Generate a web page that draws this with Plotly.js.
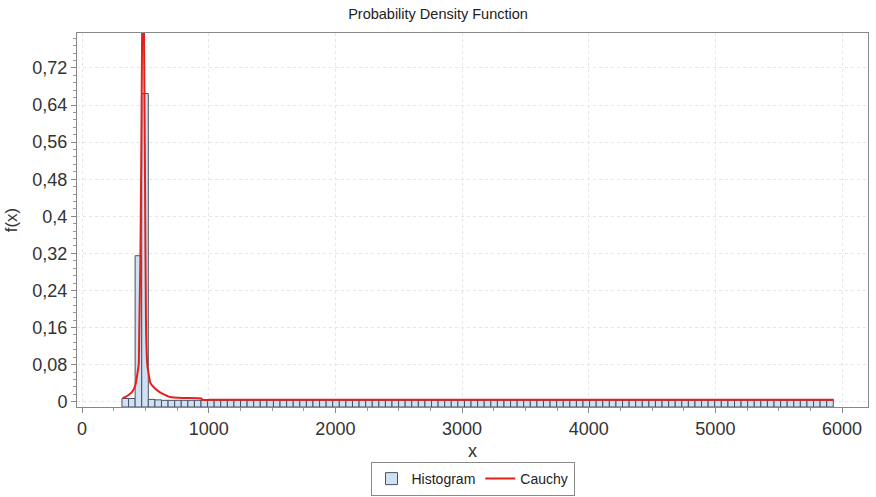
<!DOCTYPE html>
<html>
<head>
<meta charset="utf-8">
<script src="https://cdn.plot.ly/plotly-3.0.1.min.js"></script>
<style>html,body{margin:0;padding:0;background:#fff;}#chart{width:876px;height:497px;}</style>
</head>
<body>
<div id="chart"></div>
<script>
// Histogram: bins start at binStart, each binWidth wide
var binStart = 315;
var binWidth = 52;
var histHeights = [
  0.007, 0.007, 0.315, 0.665, 0.005, 0.004, 0.003, 0.003, 0.003, 0.003,
  0.003, 0.003, 0.003, 0.003, 0.003, 0.003, 0.003, 0.003, 0.003, 0.003,
  0.003, 0.003, 0.003, 0.003, 0.003, 0.003, 0.003, 0.003, 0.003, 0.003,
  0.003, 0.003, 0.003, 0.003, 0.003, 0.003, 0.003, 0.003, 0.003, 0.003,
  0.003, 0.003, 0.003, 0.003, 0.003, 0.003, 0.003, 0.003, 0.003, 0.003,
  0.003, 0.003, 0.003, 0.003, 0.003, 0.003, 0.003, 0.003, 0.003, 0.003,
  0.003, 0.003, 0.003, 0.003, 0.003, 0.003, 0.003, 0.003, 0.003, 0.003,
  0.003, 0.003, 0.003, 0.003, 0.003, 0.003, 0.003, 0.003, 0.003, 0.003,
  0.003, 0.003, 0.003, 0.003, 0.003, 0.003, 0.003, 0.003, 0.003, 0.003,
  0.003, 0.003, 0.003, 0.003, 0.003, 0.003, 0.003, 0.003, 0.003, 0.003,
  0.003, 0.003, 0.003, 0.003, 0.003, 0.003, 0.003, 0.003
];

// Fitted Cauchy curve
var cauchyX = [320, 340, 392, 420, 447, 452, 460, 466, 473, 481, 490, 497, 505, 515, 540, 570, 616, 695, 800, 940, 952, 1000, 1100, 1250, 1500, 2500, 3500, 4500, 5500, 5935];
var cauchyY = [0.008, 0.01, 0.02, 0.035, 0.08, 0.16, 0.3, 0.48, 0.75, 1.1, 0.75, 0.48, 0.16, 0.08, 0.04, 0.03, 0.02, 0.01, 0.008, 0.007, 0.004, 0.004, 0.004, 0.004, 0.004, 0.004, 0.004, 0.004, 0.004, 0.004];

var xTickVals = [0, 1000, 2000, 3000, 4000, 5000, 6000];
var yRange = [-0.0114, 0.7955];

var binCenters = histHeights.map(function(_, i){ return binStart + binWidth * (i + 0.5); });

var font = "Liberation Sans, Arial, sans-serif";

var traces = [
  {
    type: 'bar',
    name: 'Histogram',
    x: binCenters,
    y: histHeights.map(function(h){ return h - yRange[0]; }),
    base: yRange[0],
    width: binWidth,
    marker: {color: '#cfe1f3', line: {color: '#4b5060', width: 1}},
    hoverinfo: 'skip'
  },
  {
    type: 'scatter',
    mode: 'lines',
    name: 'Cauchy',
    x: cauchyX,
    y: cauchyY,
    line: {color: '#e3211c', width: 2, shape: 'spline', smoothing: 0.4}
  }
];

var layout = {
  width: 876,
  height: 497,
  margin: {l: 77, r: 8, t: 33, b: 90, autoexpand: false},
  paper_bgcolor: '#ffffff',
  plot_bgcolor: '#ffffff',
  separators: ', ',
  font: {family: font, color: '#333333'},
  title: {text: 'Probability Density Function', font: {family: font, size: 14.5, color: '#222'}, x: 0.5, xanchor: 'center', y: 0.972, yanchor: 'middle'},
  bargap: 0,
  showlegend: true,
  legend: {
    orientation: 'h', x: 0.5, xanchor: 'center', y: -0.238, yanchor: 'bottom',
    bordercolor: '#888', borderwidth: 1, bgcolor: '#fff',
    font: {family: font, size: 14, color: '#222'},
    itemwidth: 30, tracegroupgap: 0
  },
  xaxis: {
    range: [-40, 6205],
    tickvals: xTickVals,
    ticks: 'outside', ticklen: 5, tickcolor: '#888',
    tickfont: {family: font, size: 18, color: '#333'},
    showgrid: true, gridcolor: '#e6e6e6', griddash: 'dot', gridwidth: 1,
    zeroline: false,
    showline: true, linecolor: '#888', linewidth: 1, mirror: true,
    minor: {dtick: 250, ticks: 'outside', ticklen: 3, tickcolor: '#999', showgrid: false},
    title: {text: 'x', font: {family: font, size: 18, color: '#333'}, standoff: 6}
  },
  yaxis: {
    range: yRange,
    dtick: 0.08, tick0: 0,
    ticks: 'outside', ticklen: 5, tickcolor: '#888',
    tickfont: {family: font, size: 18, color: '#333'},
    showgrid: true, gridcolor: '#e6e6e6', griddash: 'dot', gridwidth: 1,
    zeroline: false,
    showline: true, linecolor: '#888', linewidth: 1, mirror: true,
    minor: {dtick: 0.016, ticks: 'outside', ticklen: 3, tickcolor: '#999', showgrid: false},
    title: {text: 'f(x)', font: {family: font, size: 17, color: '#333'}, standoff: 10}
  }
};

Plotly.newPlot('chart', traces, layout, {displayModeBar: false, staticPlot: true});
</script>
</body>
</html>
